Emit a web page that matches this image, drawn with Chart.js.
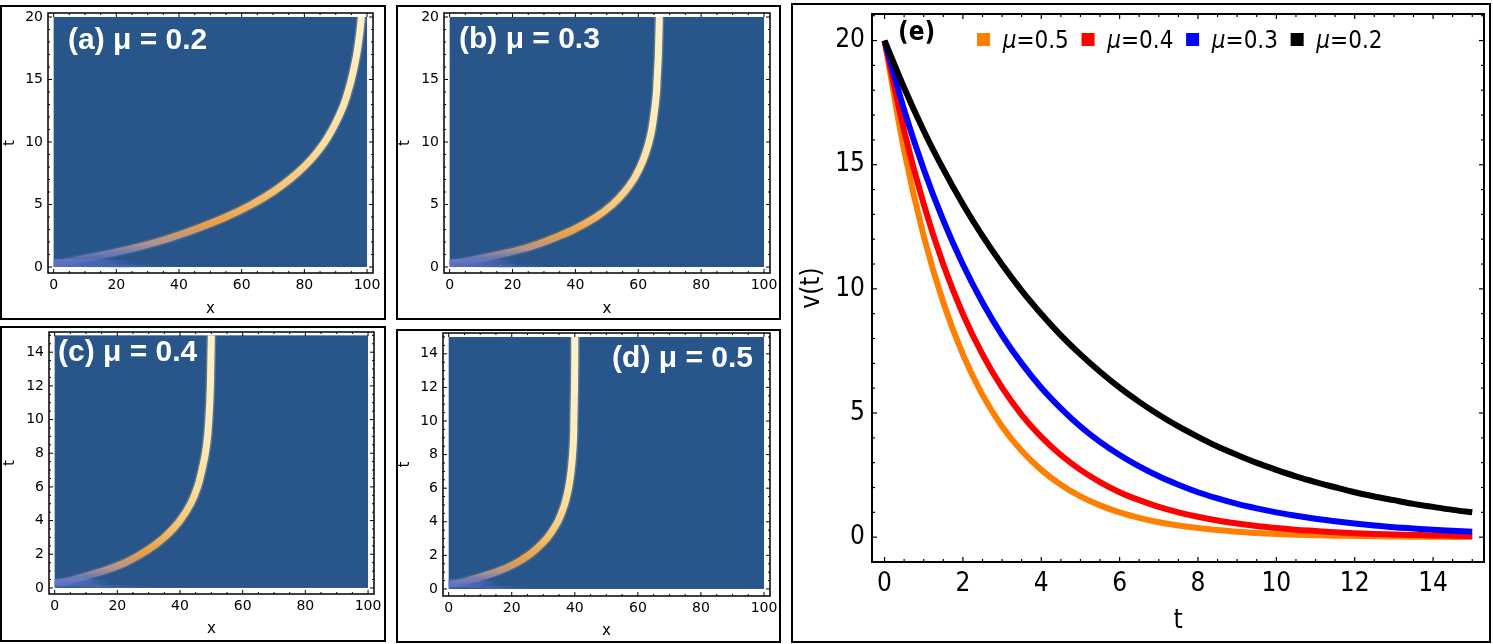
<!DOCTYPE html>
<html>
<head>
<meta charset="utf-8">
<script src="https://cdn.jsdelivr.net/npm/chart.js@4.4.0/dist/chart.umd.min.js"></script>
<style>
  body { margin: 0; background: #fff; width: 1493px; height: 644px; position: relative; overflow: hidden; }
  .box { position: absolute; border: 2px solid #000; box-sizing: border-box; }
  canvas { position: absolute; }
</style>
</head>
<body>
<div class="box" style="left:0;top:5px;width:386px;height:315px"></div>
<div class="box" style="left:396px;top:5px;width:385px;height:315px"></div>
<div class="box" style="left:0;top:326px;width:386px;height:316px"></div>
<div class="box" style="left:396px;top:329px;width:385px;height:314px"></div>
<div class="box" style="left:791px;top:3px;width:700px;height:640px"></div>

<canvas id="pa" width="381" height="314" style="left:3px;top:3px"></canvas>
<canvas id="pb" width="382" height="314" style="left:398px;top:3px"></canvas>
<canvas id="pc" width="381" height="312" style="left:3px;top:328px"></canvas>
<canvas id="pd" width="381" height="308" style="left:398px;top:332px"></canvas>
<canvas id="pe" width="695" height="633" style="left:794px;top:6px"></canvas>

<script>
// ---- data ----
const xTicks = [0, 20, 40, 60, 80, 100];
const tTicksAB = [0, 5, 10, 15, 20];
const tTicksCD = [0, 2, 4, 6, 8, 10, 12, 14];

// packet centre x(t) in panels (a)-(d)
const abT = [0.2, 0.5, 0.7, 1, 1.5, 2, 2.5, 3, 4, 5, 6, 7, 8, 9, 10, 11, 12, 13, 14, 15, 16, 17, 18, 19, 20];
const aX = [0, 6, 10, 16.5, 25.5, 33, 39.3, 45, 55, 63.2, 69.9, 75.3, 79.8, 83.5, 86.5, 88.9, 90.9, 92.6, 93.9, 95, 95.9, 96.7, 97.3, 97.8, 98.2];
const bX = [0, 6, 10, 16, 24, 30, 35, 39.5, 46.6, 51.8, 55.6, 58.5, 60.6, 62.2, 63.4, 64.3, 64.9, 65.4, 65.8, 66.0, 66.2, 66.4, 66.5, 66.6, 66.7];
const cdT = [0.2, 0.5, 0.7, 1, 1.5, 2, 2.5, 3, 3.5, 4, 5, 6, 7, 8, 9, 10, 11, 12, 13, 14, 15];
const cX = [0, 6, 10, 15.5, 22.5, 27.5, 31.6, 35, 37.7, 40, 43.4, 45.6, 47, 48.1, 48.8, 49.2, 49.5, 49.7, 49.8, 49.9, 50];
const dX = [0, 6, 10, 15, 21, 25.3, 28.5, 31.1, 33, 34.6, 36.7, 38, 38.8, 39.3, 39.6, 39.7, 39.8, 39.9, 39.95, 40, 40];

// faint initial spread near t = 0
const blobT = [0.32, 0.32, 0.3, 0.24, 0.15];
const aBlobX = [0, 8, 16, 22, 26];
const bBlobX = [0, 7, 13, 18, 22];
const cBlobX = [0, 6, 11, 15, 18];
const dBlobX = [0, 5, 10, 13, 16];
const tailT = [0.1, 0.06];
const aTailX = [18, 40];
const bTailX = [15, 32];
const cTailX = [13, 30];
const dTailX = [12, 26];

// panel (e): v(t)
const eT = [0, 0.5, 1, 1.5, 2, 2.5, 3, 3.5, 4, 4.5, 5, 5.5, 6, 6.5, 7, 7.5, 8, 8.5, 9, 9.5, 10, 10.5, 11, 11.5, 12, 12.5, 13, 13.5, 14, 14.5, 15];
const v05 = [20, 15.58, 12.13, 9.45, 7.36, 5.73, 4.46, 3.48, 2.71, 2.11, 1.64, 1.28, 1.0, 0.78, 0.6, 0.47, 0.37, 0.29, 0.22, 0.17, 0.13, 0.1, 0.08, 0.06, 0.05, 0.04, 0.03, 0.02, 0.02, 0.01, 0.01];
const v04 = [20, 16.37, 13.41, 10.98, 8.99, 7.36, 6.02, 4.93, 4.04, 3.31, 2.71, 2.22, 1.81, 1.49, 1.22, 1.0, 0.82, 0.67, 0.55, 0.45, 0.37, 0.3, 0.25, 0.2, 0.16, 0.13, 0.11, 0.09, 0.07, 0.06, 0.05];
const v03 = [20, 17.21, 14.82, 12.76, 10.98, 9.45, 8.13, 7.0, 6.02, 5.19, 4.46, 3.84, 3.31, 2.85, 2.45, 2.11, 1.81, 1.56, 1.34, 1.16, 1.0, 0.86, 0.74, 0.64, 0.55, 0.47, 0.4, 0.35, 0.3, 0.26, 0.22];
const v02 = [20, 18.1, 16.37, 14.82, 13.41, 12.13, 10.98, 9.93, 8.99, 8.13, 7.36, 6.66, 6.02, 5.45, 4.93, 4.46, 4.04, 3.65, 3.31, 2.99, 2.71, 2.45, 2.22, 2.01, 1.81, 1.64, 1.49, 1.34, 1.22, 1.1, 1.0];
const muLabels = ['0.5', '0.4', '0.3', '0.2'];
const eTTicks = [0, 2, 4, 6, 8, 10, 12, 14];
const eVTicks = [0, 5, 10, 15, 20];

Chart.defaults.font.family = "'DejaVu Sans', sans-serif";
Chart.defaults.color = '#000';
const condensed = "'DejaVu Sans Condensed', 'DejaVu Sans', sans-serif";

function pts(xs, ys) {
  return xs.map((x, i) => ({ x: x, y: ys[i] }));
}

// frame with inward ticks on all four sides + coloured field
const framePlugin = {
  id: 'frame',
  beforeDatasetsDraw(chart, args, o) {
    if (!o.field) return;
    const { ctx, scales: { x, y } } = chart;
    const l = x.getPixelForValue(o.field[0]), r = x.getPixelForValue(o.field[1]);
    const b = y.getPixelForValue(o.field[2]), t = y.getPixelForValue(o.field[3]);
    ctx.save();
    ctx.fillStyle = o.fieldColor;
    ctx.fillRect(l, t, r - l, b - t);
    ctx.restore();
  },
  afterDatasetsDraw(chart, args, o) {
    const { ctx, chartArea: a, scales: { x, y } } = chart;
    const marks = (scale, step) => {
      const majors = scale.ticks.map(t => t.value);
      const out = [];
      for (let v = Math.ceil(scale.min / step) * step; v <= scale.max + 1e-9; v += step) {
        const vv = Math.round(v * 1000) / 1000;
        out.push([vv, majors.some(m => Math.abs(m - vv) < 1e-6)]);
      }
      return out;
    };
    const seg = (x1, y1, x2, y2) => { ctx.beginPath(); ctx.moveTo(x1, y1); ctx.lineTo(x2, y2); ctx.stroke(); };
    ctx.save();
    ctx.strokeStyle = '#000';
    ctx.lineWidth = o.tickWidth;
    marks(x, o.xMinor).forEach(([v, major]) => {
      const p = x.getPixelForValue(v), len = major ? o.major : o.minor;
      seg(p, a.bottom, p, a.bottom - len);
      seg(p, a.top, p, a.top + len);
    });
    marks(y, o.yMinor).forEach(([v, major]) => {
      const p = y.getPixelForValue(v), len = major ? o.major : o.minor;
      seg(a.left, p, a.left + len, p);
      seg(a.right, p, a.right - len, p);
    });
    ctx.lineWidth = o.width;
    ctx.strokeRect(a.left, a.top, a.right - a.left, a.bottom - a.top);
    ctx.restore();
  }
};

// panel caption drawn inside the plot
const captionPlugin = {
  id: 'caption',
  afterDatasetsDraw(chart, args, o) {
    if (!o.text) return;
    const { ctx, chartArea: a } = chart;
    ctx.save();
    ctx.font = o.font;
    ctx.fillStyle = o.color;
    ctx.textAlign = o.align;
    ctx.textBaseline = 'alphabetic';
    const x = o.align === 'right' ? a.right + o.dx : a.left + o.dx;
    ctx.fillText(o.text, x, a.top + o.dy);
    ctx.restore();
  }
};

// legend of panel (e), sitting inside the frame
const muLegend = {
  id: 'muLegend',
  afterDraw(chart, args, o) {
    if (!o.show) return;
    const { ctx, chartArea: a } = chart;
    let x = a.left + o.left;
    const top = a.top + o.top;
    ctx.save();
    ctx.textBaseline = 'alphabetic';
    chart.data.datasets.forEach(ds => {
      ctx.fillStyle = ds.borderColor;
      ctx.fillRect(x, top, o.box, o.box);
      x += o.box + o.gap;
      ctx.fillStyle = '#000';
      ctx.font = 'oblique ' + o.size + 'px ' + condensed;
      ctx.fillText('μ', x, top + o.base);
      x += ctx.measureText('μ').width;
      ctx.font = o.size + 'px ' + condensed;
      const rest = '=' + ds.mu;
      ctx.fillText(rest, x, top + o.base);
      x += ctx.measureText(rest).width + o.space;
    });
    ctx.restore();
  }
};

function bandGradient(c, p, alpha) {
  const chart = c.chart;
  if (!chart.chartArea) return 'rgba(255,236,185,' + alpha + ')';
  const y = chart.scales.y;
  const g = chart.ctx.createLinearGradient(0, y.getPixelForValue(0), 0, y.getPixelForValue(p.tMax));
  const k = p.peak;
  const stops = [
    [0, [110, 120, 200, 0.0]],
    [0.25 * k, [130, 132, 196, 0.6]],
    [0.55 * k, [182, 150, 140, 0.95]],
    [k, [232, 160, 72, 1]],
    [1.8 * k, [246, 196, 118, 1]],
    [2.8 * k, [252, 222, 158, 1]],
    [4.5 * k, [255, 236, 185, 1]],
    [p.tMax, [255, 241, 200, 1]]
  ];
  stops.forEach(([t, col]) => {
    g.addColorStop(Math.min(t / p.tMax, 1),
      'rgba(' + col[0] + ',' + col[1] + ',' + col[2] + ',' + (col[3] * alpha) + ')');
  });
  return g;
}

function blobGradient(c, xEnd, a0) {
  const chart = c.chart;
  if (!chart.chartArea) return 'rgba(95,112,205,0.5)';
  const x = chart.scales.x;
  const g = chart.ctx.createLinearGradient(x.getPixelForValue(0), 0, x.getPixelForValue(xEnd), 0);
  g.addColorStop(0, 'rgba(95,112,205,' + a0 + ')');
  g.addColorStop(0.6, 'rgba(95,112,205,' + (a0 * 0.65) + ')');
  g.addColorStop(1, 'rgba(95,112,205,0)');
  return g;
}

function fixY(w) {
  return s => { s.width = w; s.paddingTop = 0; s.paddingBottom = 0; };
}
function fixX(h) {
  return s => { s.height = h; s.paddingLeft = 0; s.paddingRight = 0; };
}

function fieldPanel(id, p) {
  new Chart(document.getElementById(id), {
    type: 'scatter',
    data: {
      datasets: [
        { data: pts(p.xs, p.ts), showLine: true, borderWidth: 7, cubicInterpolationMode: 'monotone', pointRadius: 0,
          borderColor: c => bandGradient(c, p, 1) },
        { data: pts(p.xs, p.ts), showLine: true, borderWidth: 10, cubicInterpolationMode: 'monotone', pointRadius: 0,
          borderColor: c => bandGradient(c, p, 0.22) },
        { data: pts(p.blobX, blobT), showLine: true, borderWidth: 8, tension: 0.3, pointRadius: 0,
          borderColor: c => blobGradient(c, p.blobX[p.blobX.length - 1], 0.85) },
        { data: pts(p.tailX, tailT), showLine: true, borderWidth: 3, pointRadius: 0,
          borderColor: c => blobGradient(c, p.tailX[1], 0.5) }
      ]
    },
    options: {
      indexAxis: 'y',
      responsive: false,
      animation: false,
      devicePixelRatio: 1,
      layout: { padding: { left: 0, top: p.padT, right: p.padR, bottom: 0 } },
      plugins: {
        legend: { display: false },
        tooltip: { enabled: false },
        frame: { field: [0, 100, 0, p.tMax], fieldColor: '#28558a', xMinor: 5, yMinor: p.yMinor,
                 major: 4, minor: 2, tickWidth: 1, width: 1.5 },
        caption: { text: p.caption, font: "bold 30px 'Liberation Sans', Arial, sans-serif", color: '#fff',
                   align: p.capAlign, dx: p.capDx, dy: p.capDy },
        muLegend: { show: false }
      },
      scales: {
        x: {
          type: 'linear', position: 'bottom', min: -1.8, max: 101.9,
          afterBuildTicks: s => { s.ticks = xTicks.map(v => ({ value: v })); },
          afterFit: fixX(p.xH),
          grid: { display: false, drawTicks: false },
          border: { display: false },
          ticks: { padding: 4, autoSkip: false, maxRotation: 0, font: { size: 14 }, color: '#000' },
          title: { display: true, text: 'x', font: { size: 15, lineHeight: 1 }, padding: { top: 0, bottom: p.xTitlePad } }
        },
        y: {
          type: 'linear', position: 'left', min: p.yMin, max: p.yMax,
          afterBuildTicks: s => { s.ticks = p.tTicks.map(v => ({ value: v })); },
          afterFit: fixY(p.yW),
          grid: { display: false, drawTicks: false },
          border: { display: false },
          ticks: { padding: 5, autoSkip: false, font: { size: 14 }, color: '#000' },
          title: { display: true, text: 't', font: { size: 15, lineHeight: 1 }, padding: { top: 0, bottom: 0 } }
        }
      }
    },
    plugins: [framePlugin, captionPlugin]
  });
}

fieldPanel('pa', { xs: aX, ts: abT, tTicks: tTicksAB, tMax: 20, yMin: -0.48, yMax: 20.32, yMinor: 1, peak: 3.5,
  blobX: aBlobX, tailX: aTailX, caption: '(a) μ = 0.2', capAlign: 'left', capDx: 20, capDy: 36,
  yW: 45, xH: 44, padT: 10, padR: 11, xTitlePad: 0 });
fieldPanel('pb', { xs: bX, ts: abT, tTicks: tTicksAB, tMax: 20, yMin: -0.48, yMax: 20.32, yMinor: 1, peak: 2.6,
  blobX: bBlobX, tailX: bTailX, caption: '(b) μ = 0.3', capAlign: 'left', capDx: 15, capDy: 35,
  yW: 46, xH: 44, padT: 10, padR: 10, xTitlePad: 0 });
fieldPanel('pc', { xs: cX, ts: cdT, tTicks: tTicksCD, tMax: 15, yMin: -0.36, yMax: 15.2, yMinor: 0.5, peak: 2.1,
  blobX: cBlobX, tailX: cTailX, caption: '(c) μ = 0.4', capAlign: 'left', capDx: 9, capDy: 29,
  yW: 46, xH: 46, padT: 4, padR: 10, xTitlePad: 3 });
fieldPanel('pd', { xs: dX, ts: cdT, tTicks: tTicksCD, tMax: 15, yMin: -0.42, yMax: 15.24, yMinor: 0.5, peak: 1.8,
  blobX: dBlobX, tailX: dTailX, caption: '(d) μ = 0.5', capAlign: 'right', capDx: -17, capDy: 34,
  yW: 45, xH: 44, padT: 1, padR: 9, xTitlePad: 1 });

// ---- panel (e) ----
const eSeries = [v05, v04, v03, v02];
const eColors = ['#ff8000', '#ff0000', '#0000ff', '#000000'];
new Chart(document.getElementById('pe'), {
  type: 'line',
  data: {
    datasets: eSeries.map((vals, i) => ({
      label: 'μ=' + muLabels[i],
      mu: muLabels[i],
      data: pts(eT, vals),
      borderColor: eColors[i],
      borderWidth: 6,
      borderCapStyle: 'butt',
      cubicInterpolationMode: 'monotone',
      pointRadius: 0,
      fill: false,
      order: 3 - i
    }))
  },
  options: {
    responsive: false,
    animation: false,
    devicePixelRatio: 1,
    layout: { padding: { left: 0, top: 8, right: 5, bottom: 0 } },
    plugins: {
      legend: { display: false },
      tooltip: { enabled: false },
      frame: { xMinor: 0.5, yMinor: 1, major: 5, minor: 3, tickWidth: 1.2, width: 2 },
      caption: { text: '(e)', font: "bold 26px " + condensed, color: '#000',
                 align: 'left', dx: 26, dy: 26 },
      muLegend: { show: true, left: 105, top: 19, box: 13, gap: 12.7, space: 12.7, size: 24, base: 15.3 }
    },
    scales: {
      x: {
        type: 'linear', min: -0.32, max: 15.3,
        afterBuildTicks: s => { s.ticks = eTTicks.map(v => ({ value: v })); },
        afterFit: fixX(77),
        grid: { display: false, drawTicks: false },
        border: { display: false },
        ticks: { padding: 7, autoSkip: false, maxRotation: 0, font: { size: 26, family: condensed }, color: '#000' },
        title: { display: true, text: 't', font: { size: 26, family: condensed }, padding: { top: 0, bottom: 2 } }
      },
      y: {
        type: 'linear', min: -1.0, max: 21.07,
        afterBuildTicks: s => { s.ticks = eVTicks.map(v => ({ value: v })); },
        afterFit: fixY(78),
        grid: { display: false, drawTicks: false },
        border: { display: false },
        ticks: { padding: 7, autoSkip: false, font: { size: 26, family: condensed }, color: '#000' },
        title: { display: true, text: 'v(t)', font: { size: 26, family: condensed }, padding: { top: 3, bottom: 0 } }
      }
    }
  },
  plugins: [framePlugin, captionPlugin, muLegend]
});
</script>
</body>
</html>
